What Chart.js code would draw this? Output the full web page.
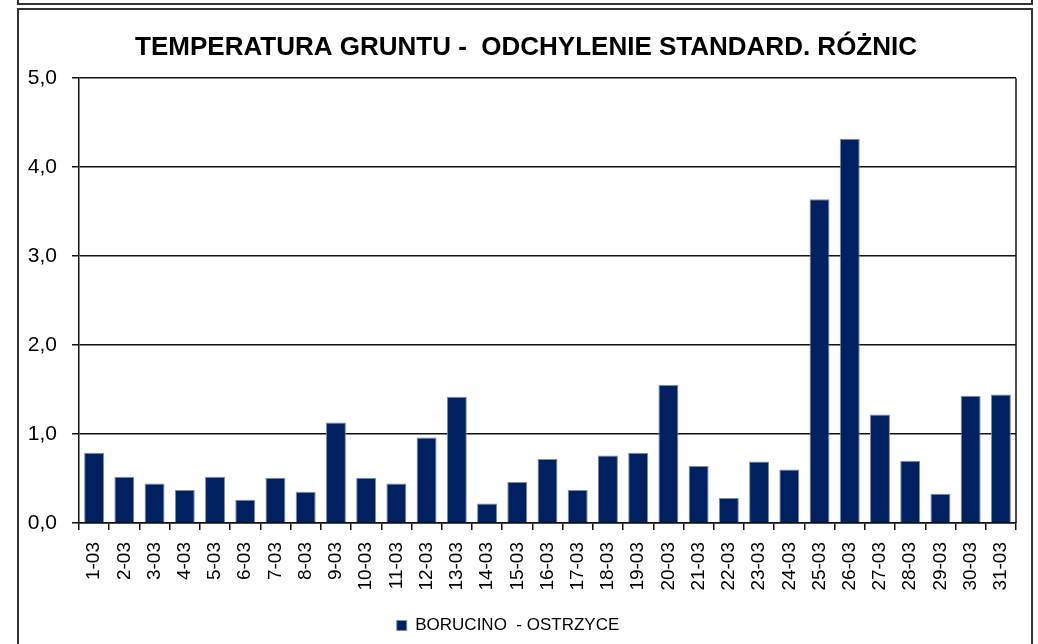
<!DOCTYPE html>
<html>
<head>
<meta charset="utf-8">
<script src="https://cdn.jsdelivr.net/npm/chart.js@4.4.0/dist/chart.umd.min.js"></script>
<style>
  html, body { margin: 0; padding: 0; background: #fff; overflow: hidden; }
  #wrap { position: relative; width: 1038px; height: 644px; }
  .ramka { position: absolute; box-sizing: border-box; border: 2px solid #333; }
  #poprzednia { left: 17px; top: -20px; width: 1016px; height: 25px; }
  #glowna { left: 17px; top: 8px; width: 1016px; height: 700px; }
  canvas { position: absolute; left: 0; top: 0; }
</style>
</head>
<body>
<div id="wrap">
  <div class="ramka" id="poprzednia"></div>
  <div class="ramka" id="glowna"></div>
  <canvas id="wykres" width="1038" height="644"></canvas>
</div>
<script>
// dni marca
const dni = ['1-03', '2-03', '3-03', '4-03', '5-03', '6-03', '7-03', '8-03', '9-03', '10-03',
  '11-03', '12-03', '13-03', '14-03', '15-03', '16-03', '17-03', '18-03', '19-03', '20-03',
  '21-03', '22-03', '23-03', '24-03', '25-03', '26-03', '27-03', '28-03', '29-03', '30-03', '31-03'];

// odchylenie standardowe różnic Borucino - Ostrzyce
const odchylenie = [0.79, 0.52, 0.445, 0.37, 0.52, 0.26, 0.51, 0.35, 1.13, 0.51,
  0.445, 0.96, 1.42, 0.22, 0.46, 0.72, 0.37, 0.76, 0.79, 1.55,
  0.64, 0.28, 0.69, 0.60, 3.64, 4.32, 1.22, 0.70, 0.33, 1.43, 1.445];

const etykietyY = ['0,0', '1,0', '2,0', '3,0', '4,0', '5,0'];

// prawa krawędź obszaru wykresu
const prawaKrawedz = {
  id: 'prawaKrawedz',
  afterDraw(chart) {
    const { ctx, chartArea } = chart;
    ctx.save();
    ctx.strokeStyle = '#111';
    ctx.lineWidth = 1.5;
    ctx.beginPath();
    ctx.moveTo(chartArea.right, chartArea.top);
    ctx.lineTo(chartArea.right, chartArea.bottom);
    ctx.stroke();
    ctx.restore();
  }
};

Chart.defaults.font.family = '"Liberation Sans", Arial, sans-serif';
Chart.defaults.color = '#000';

new Chart(document.getElementById('wykres'), {
  type: 'bar',
  data: {
    labels: dni,
    datasets: [{
      label: 'BORUCINO  - OSTRZYCE',
      data: odchylenie,
      backgroundColor: '#002060',
      borderColor: '#7d8bb5',
      borderWidth: 1,
      categoryPercentage: 1,
      barPercentage: 0.66
    }]
  },
  options: {
    responsive: false,
    animation: false,
    layout: { padding: { left: 0, right: 22, top: 0, bottom: 0 } },
    plugins: {
      title: {
        display: true,
        // spacje z przodu przesuwają tytuł w prawo, jak w oryginale
        text: '     TEMPERATURA GRUNTU -  ODCHYLENIE STANDARD. RÓŻNIC',
        font: { size: 26, weight: 'bold' },
        color: '#000',
        padding: { top: 32, bottom: 15 }
      },
      legend: {
        position: 'bottom',
        labels: {
          boxWidth: 10,
          boxHeight: 10,
          padding: 5,
          font: { size: 17 },
          color: '#000'
        }
      },
      tooltip: { enabled: false }
    },
    scales: {
      x: {
        grid: {
          offset: true,
          drawOnChartArea: false,
          drawTicks: true,
          tickLength: 7,
          color: '#111',
          lineWidth: 1.5
        },
        border: { display: true, color: '#111', width: 1.5 },
        ticks: {
          minRotation: 90,
          maxRotation: 90,
          autoSkip: false,
          padding: 12,
          font: { size: 19 }
        },
        afterFit(scale) { scale.height = 89; }
      },
      y: {
        min: 0,
        max: 5,
        grid: {
          color: '#111',
          lineWidth: 1.5,
          tickLength: 7
        },
        border: { display: true, color: '#111', width: 1.5 },
        ticks: {
          stepSize: 1,
          padding: 15,
          font: { size: 21 },
          callback: (v, i) => etykietyY[i]
        },
        afterFit(scale) { scale.width = 79; }
      }
    }
  },
  plugins: [prawaKrawedz]
});
</script>
</body>
</html>
